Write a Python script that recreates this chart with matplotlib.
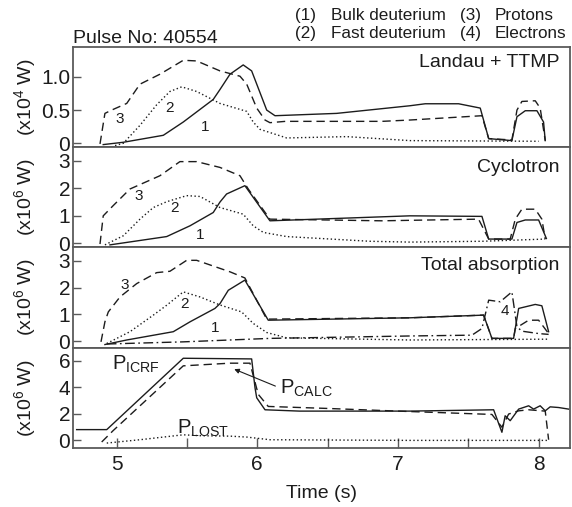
import matplotlib
matplotlib.use("Agg")
import matplotlib.pyplot as plt

plt.rcParams["font.family"] = ["Liberation Sans", "DejaVu Sans"]
plt.rcParams["mathtext.fontset"] = "custom"
plt.rcParams["mathtext.rm"] = "Liberation Sans"
plt.rcParams["mathtext.it"] = "Liberation Sans:italic"

INK = "#1c1c1c"
FRAME = "#5a5a5a"

# panel 1: Landau + TTMP (x10^4 W)
lan_t1 = [4.905, 5.048, 5.332, 5.474, 5.687, 5.735, 5.806, 5.900, 5.960, 6.067, 6.126,
          6.564, 7.085, 7.194, 7.431, 7.585, 7.645, 7.810, 7.846, 7.905, 7.988, 8.035, 8.047]
lan_v1 = [-0.02, 0.015, 0.12, 0.32, 0.66, 0.81, 1.04, 1.18, 1.09, 0.50, 0.415,
          0.45, 0.565, 0.595, 0.595, 0.53, 0.07, 0.04, 0.40, 0.49, 0.49, 0.32, 0.04]
lan_t2 = [4.989, 5.048, 5.166, 5.285, 5.379, 5.463, 5.569, 5.735, 5.925, 5.971, 6.019,
          6.209, 6.635, 7.085, 8.000]
lan_v2 = [-0.035, 0.0, 0.27, 0.58, 0.78, 0.85, 0.78, 0.60, 0.48, 0.32, 0.21,
          0.08, 0.10, 0.04, 0.03]
lan_t3 = [4.882, 4.917, 4.965, 5.072, 5.166, 5.308, 5.474, 5.569, 5.735, 5.877, 5.925,
          5.996, 6.055, 6.090, 6.200, 6.886, 7.085, 7.597, 7.645, 7.810, 7.846, 7.881,
          7.976, 8.011, 8.047]
lan_v3 = [-0.01, 0.45, 0.50, 0.60, 0.89, 1.04, 1.25, 1.24, 1.09, 1.01, 0.89,
          0.53, 0.35, 0.31, 0.33, 0.33, 0.35, 0.415, 0.07, 0.05, 0.50, 0.63,
          0.64, 0.53, 0.04]

# panel 2: cyclotron (x10^6 W)
cyc_t1 = [4.953, 5.356, 5.522, 5.687, 5.735, 5.782, 5.912, 6.090, 7.085, 7.597, 7.645,
          7.810, 7.846, 7.905, 8.000, 8.047, 8.055]
cyc_v1 = [-0.05, 0.25, 0.64, 1.12, 1.50, 1.79, 2.09, 0.82, 1.0, 0.98, 0.16,
          0.16, 0.76, 0.85, 0.85, 0.28, 0.18]
cyc_t2 = [4.917, 5.048, 5.166, 5.261, 5.356, 5.498, 5.593, 5.735, 5.900, 5.971, 6.043,
          6.209, 6.800, 7.085, 7.600, 8.047]
cyc_v2 = [-0.05, 0.28, 0.88, 1.30, 1.51, 1.73, 1.70, 1.30, 1.06, 0.64, 0.40,
          0.25, 0.08, 0.05, 0.08, 0.16]
cyc_t3 = [4.882, 4.905, 4.976, 5.095, 5.308, 5.450, 5.569, 5.735, 5.877, 5.936, 6.090,
          6.886, 7.573, 7.645, 7.798, 7.834, 7.881, 7.976, 8.023, 8.047]
cyc_v3 = [-0.02, 1.0, 1.37, 1.97, 2.45, 2.96, 2.96, 2.75, 2.45, 1.97, 0.88,
          0.82, 0.88, 0.16, 0.16, 0.88, 1.24, 1.24, 0.88, 0.16]

# panel 3: total absorption (x10^6 W)
tot_t1 = [4.917, 5.072, 5.403, 5.522, 5.699, 5.735, 5.794, 5.912, 6.078, 7.085, 7.609,
          7.668, 7.822, 7.858, 7.976, 8.023, 8.071]
tot_v1 = [-0.13, 0.04, 0.35, 0.72, 1.22, 1.40, 1.90, 2.28, 0.78, 0.87, 0.97,
          0.10, 0.10, 1.22, 1.37, 1.32, 0.35]
tot_t2 = [4.930, 5.095, 5.261, 5.356, 5.474, 5.593, 5.735, 5.889, 5.971, 6.067, 6.209,
          7.085, 8.071]
tot_v2 = [-0.09, 0.35, 0.97, 1.34, 1.84, 1.65, 1.35, 1.09, 0.66, 0.32, 0.12,
          0.04, 0.07]
tot_t3 = [4.889, 4.917, 4.941, 5.024, 5.143, 5.285, 5.379, 5.498, 5.569, 5.806, 5.912,
          6.067, 7.085, 7.609, 7.668, 7.822, 7.834, 7.929, 8.000, 8.071]
tot_v3 = [-0.03, 0.72, 1.09, 1.65, 2.15, 2.56, 2.61, 3.02, 3.02, 2.59, 2.36,
          0.82, 0.87, 0.97, 0.10, 0.10, 0.47, 0.78, 0.78, 0.28]
tot_t4 = [4.930, 5.474, 5.806, 6.090, 7.085, 7.526, 7.597, 7.645, 7.727, 7.810, 7.846,
          7.881, 8.000, 8.071]
tot_v4 = [-0.11, -0.03, 0.04, 0.10, 0.19, 0.22, 0.47, 1.53, 1.47, 1.84, 0.53,
          0.37, 0.28, 0.25]

# panel 4: powers (x10^6 W)
icrf_t = [4.716, 4.930, 5.474, 5.960, 5.984, 5.996, 6.055, 6.300, 7.085, 7.680, 7.739,
          7.762, 7.798, 7.858, 7.929, 7.964, 8.011, 8.047, 8.082, 8.142, 8.213]
icrf_v = [0.81, 0.81, 6.17, 6.12, 3.95, 3.20, 2.30, 2.20, 2.20, 2.30, 0.61,
          1.85, 1.48, 2.35, 2.60, 2.35, 2.60, 2.22, 2.52, 2.47, 2.35]
calc_t = [4.894, 4.976, 5.474, 5.806, 5.948, 6.007, 6.078, 6.500, 7.000, 7.668, 7.739,
          7.787, 7.858, 7.929, 8.047, 8.071]
calc_v = [-0.12, 0.74, 5.60, 5.80, 5.80, 3.46, 2.55, 2.40, 2.20, 1.95, 0.99,
          1.98, 2.22, 2.30, 2.20, 0.05]
lost_t = [4.930, 5.166, 5.474, 5.600, 5.806, 5.925, 6.090, 7.085, 8.071]
lost_v = [-0.2, 0.05, 0.42, 0.35, 0.32, 0.25, 0.05, 0.0, 0.0]

DASH = (0, (6, 3.5))
DOT = (0, (1, 1.8))
DASHDOT = (0, (7, 2.5, 1.2, 2.5))

fig = plt.figure(figsize=(5.72, 5.07), dpi=100)
axs = fig.subplots(4, 1, sharex=True, gridspec_kw=dict(hspace=0))
fig.subplots_adjust(left=0.1276, right=0.9965, top=0.9073, bottom=0.1164)

lw = 1.0
ax = axs[0]
ax.plot(lan_t1, lan_v1, color=INK, lw=lw)
ax.plot(lan_t2, lan_v2, color=INK, lw=lw, linestyle=DOT)
ax.plot(lan_t3, lan_v3, color=INK, lw=lw, linestyle=DASH)
ax.set_ylim(-0.06, 1.45)
ax.set_yticks([0, 0.5, 1.0])
ax.set_yticklabels(["0", "0.5", "1.0"])
ax.set_ylabel(r"(x10$^4$ W)")
ax.text(0.978, 0.847, "Landau + TTMP", transform=ax.transAxes, ha="right", va="center", fontsize=14, color=INK)
for s, (t, v) in zip(["3", "2", "1"], [(5.024, 0.37), (5.379, 0.53), (5.628, 0.25)]):
    ax.text(t, v, s, ha="center", va="center", fontsize=11, color=INK)

ax = axs[1]
ax.plot(cyc_t1, cyc_v1, color=INK, lw=lw)
ax.plot(cyc_t2, cyc_v2, color=INK, lw=lw, linestyle=DOT)
ax.plot(cyc_t3, cyc_v3, color=INK, lw=lw, linestyle=DASH)
ax.set_ylim(-0.145, 3.48)
ax.set_yticks([0, 1, 2, 3])
ax.set_ylabel(r"(x10$^6$ W)")
ax.text(0.978, 0.80, "Cyclotron", transform=ax.transAxes, ha="right", va="center", fontsize=14, color=INK)
for s, (t, v) in zip(["3", "2", "1"], [(5.155, 1.73), (5.415, 1.30), (5.593, 0.30)]):
    ax.text(t, v, s, ha="center", va="center", fontsize=11, color=INK)

ax = axs[2]
ax.plot(tot_t1, tot_v1, color=INK, lw=lw)
ax.plot(tot_t2, tot_v2, color=INK, lw=lw, linestyle=DOT)
ax.plot(tot_t3, tot_v3, color=INK, lw=lw, linestyle=DASH)
ax.plot(tot_t4, tot_v4, color=INK, lw=lw, linestyle=DASHDOT)
ax.set_ylim(-0.25, 3.5)
ax.set_yticks([0, 1, 2, 3])
ax.set_ylabel(r"(x10$^6$ W)")
ax.text(0.978, 0.82, "Total absorption", transform=ax.transAxes, ha="right", va="center", fontsize=14, color=INK)
for s, (t, v) in zip(["3", "2", "1", "4"], [(5.060, 2.09), (5.486, 1.39), (5.699, 0.47), (7.758, 1.12)]):
    ax.text(t, v, s, ha="center", va="center", fontsize=11, color=INK)

ax = axs[3]
ax.plot(icrf_t, icrf_v, color=INK, lw=lw)
ax.plot(calc_t, calc_v, color=INK, lw=lw, linestyle=DASH)
ax.plot(lost_t, lost_v, color=INK, lw=lw, linestyle=DOT)
ax.set_ylim(-0.57, 6.96)
ax.set_yticks([0, 2, 4, 6])
ax.set_ylabel(r"(x10$^6$ W)")
ax.text(4.965, 5.33, r"P$_{\mathrm{ICRF}}$", ha="left", va="baseline", fontsize=14.5, color=INK)
ax.text(5.43, 0.52, r"P$_{\mathrm{LOST}}$", ha="left", va="baseline", fontsize=14.5, color=INK)
ax.text(6.161, 3.48, r"P$_{\mathrm{CALC}}$", ha="left", va="baseline", fontsize=14.5, color=INK)
ax.annotate("", xy=(5.818, 5.43), xytext=(6.147, 4.0),
            arrowprops=dict(arrowstyle="-|>", color=INK, lw=0.8, mutation_scale=7))

ax.set_xlim(4.690, 8.223)
ax.set_xticks([5, 6, 7, 8])
ax.set_xticks([5.5, 6.5, 7.5], minor=True)
ax.set_xlabel("Time (s)", fontsize=14, color=INK, labelpad=8)

for i, ax in enumerate(axs):
    for sp in ax.spines.values():
        sp.set_color(FRAME)
        sp.set_linewidth(1.3)
    ax.tick_params(axis="y", direction="in", length=6, width=1, color=FRAME,
                   labelsize=15, labelcolor=INK, pad=2)
    ax.tick_params(axis="x", which="both", direction="in", length=7, width=1, color=FRAME,
                   labelsize=15, labelcolor=INK, pad=5, bottom=(i == 3))
    ax.yaxis.label.set_fontsize(14)
    ax.yaxis.label.set_color(INK)
    ax.yaxis.set_label_coords(-0.07, 0.5)

fig.text(73 / 572, 0.925, "Pulse No: 40554", ha="left", va="center", fontsize=14, color=INK)
rows = [("(1)", "Bulk deuterium", "(3)", "Protons"),
        ("(2)", "Fast deuterium", "(4)", "Electrons")]
for r, yy in zip(rows, [0.970, 0.934]):
    for s, xx in zip(r, [295, 331, 460, 495]):
        fig.text(xx / 572, yy, s, ha="left", va="center", fontsize=12.3, color=INK)

fig.savefig("out.png", dpi=100)
